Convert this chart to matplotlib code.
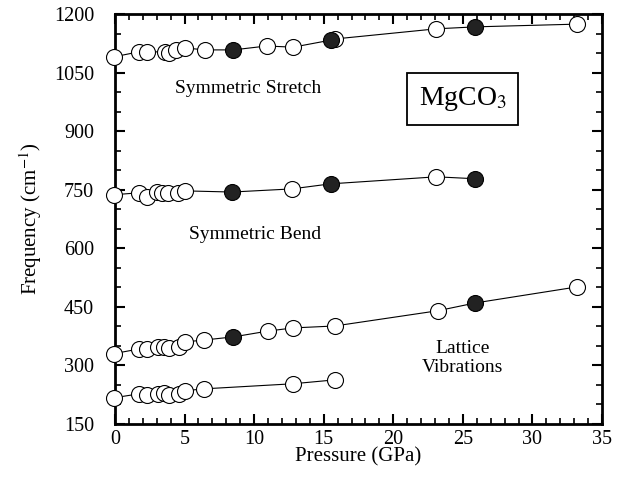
import numpy as np
import matplotlib
matplotlib.use("Agg")
import matplotlib.pyplot as plt

plt.rcParams['font.family'] = ['Liberation Serif', 'DejaVu Serif']
plt.rcParams['mathtext.fontset'] = 'stix'

# Symmetric stretch
p_str = [-0.1, 1.7, 2.3, 3.6, 3.9, 4.4, 5.0, 6.5, 8.5, 10.9, 12.8, 15.5, 15.8, 23.1, 25.9, 33.2]
f_str = [1090, 1103, 1103, 1103, 1100, 1108, 1113, 1108, 1108, 1118, 1115, 1133, 1136, 1162, 1167, 1174]
fill_str = [0, 0, 0, 0, 0, 0, 0, 0, 1, 0, 0, 1, 0, 0, 1, 0]

# Symmetric bend
p_bnd = [-0.1, 1.7, 2.3, 3.0, 3.4, 3.8, 4.5, 5.0, 8.4, 12.7, 15.5, 23.1, 25.9]
f_bnd = [737, 742, 731, 744, 742, 742, 742, 747, 744, 752, 765, 783, 778]
fill_bnd = [0, 0, 0, 0, 0, 0, 0, 0, 1, 0, 1, 0, 1]

# Lattice modes (upper)
p_lat1 = [-0.1, 1.7, 2.3, 3.1, 3.5, 3.9, 4.6, 5.0, 6.4, 8.5, 11.0, 12.8, 15.8, 23.2, 25.9, 33.2]
f_lat1 = [330, 342, 342, 348, 348, 345, 348, 360, 365, 373, 388, 396, 401, 440, 460, 501]
fill_lat1 = [0, 0, 0, 0, 0, 0, 0, 0, 0, 1, 0, 0, 0, 0, 1, 0]

# Lattice modes (lower)
p_lat2 = [-0.1, 1.7, 2.3, 3.1, 3.5, 3.9, 4.6, 5.0, 6.4, 12.8, 15.8]
f_lat2 = [217, 227, 225, 227, 230, 225, 227, 235, 240, 253, 263]
fill_lat2 = [0] * 11

series = [(p_str, f_str, fill_str), (p_bnd, f_bnd, fill_bnd),
          (p_lat1, f_lat1, fill_lat1), (p_lat2, f_lat2, fill_lat2)]

fig = plt.figure(figsize=(6.33, 4.87), dpi=100)
ax = fig.add_axes([0.1817, 0.1294, 0.951 - 0.1817, 0.9713 - 0.1294])

for p, f, fl in series:
    p = np.array(p)
    f = np.array(f)
    fl = np.array(fl, dtype=bool)
    ax.plot(p, f, '-', color='black', lw=0.8, zorder=2)
    ax.plot(p[~fl], f[~fl], 'o', ms=11.5, mfc='white', mec='black', mew=0.8,
            ls='none', zorder=3, clip_on=False)
    ax.plot(p[fl], f[fl], 'o', ms=11.5, mfc='#222222', mec='black', mew=0.8,
            ls='none', zorder=4, clip_on=False)

ax.set_xlim(0, 35)
ax.set_ylim(150, 1200)
ax.set_xticks(np.arange(0, 36, 5))
ax.set_xticks(np.arange(0, 36, 1), minor=True)
ax.set_yticks(np.arange(150, 1201, 150))
ax.set_yticks(np.arange(150, 1201, 50), minor=True)

for s in ax.spines.values():
    s.set_linewidth(2.0)

ax.tick_params(which='both', direction='in', top=True, right=True, labelsize=14.5)
ax.tick_params(which='major', length=7, width=1.5)
ax.tick_params(which='minor', length=4, width=1.2)
ax.tick_params(axis='x', which='major', pad=4)
ax.tick_params(axis='y', which='major', pad=15)

ax.set_xlabel('Pressure (GPa)', fontsize=15, labelpad=-1)
ax.set_ylabel('Frequency (cm$^{-1}$)', fontsize=15, labelpad=7)

ax.text(9.6, 1010, 'Symmetric Stretch', fontsize=14, ha='center', va='center')
ax.text(10.1, 635, 'Symmetric Bend', fontsize=14, ha='center', va='center')
ax.text(25.0, 319, 'Lattice\nVibrations', fontsize=14, ha='center', va='center',
        linespacing=1.1)
ax.text(25.0, 982, 'MgCO$_3$', fontsize=20, ha='center', va='center',
        bbox=dict(boxstyle='square,pad=0.42', fc='white', ec='black', lw=1.3))

fig.savefig('out.png', dpi=100)
